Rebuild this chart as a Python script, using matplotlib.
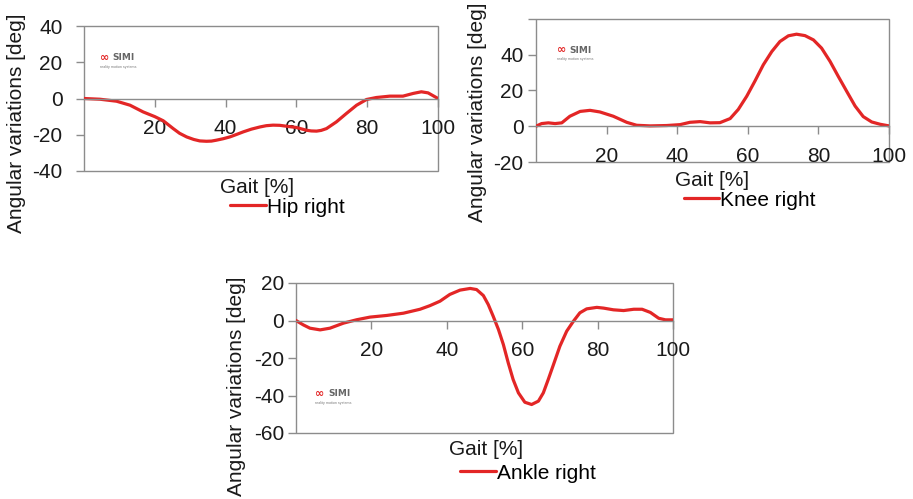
import matplotlib
matplotlib.use("Agg")
import matplotlib.pyplot as plt
from matplotlib.patches import Rectangle

plt.rcParams['font.family'] = ['Liberation Sans', 'DejaVu Sans']
plt.rcParams['axes.unicode_minus'] = False

# ---------------- data ----------------
hip_x = [0, 4.5, 9.2, 13, 16.7, 20, 22.4, 25.2, 27, 29, 31, 32.7, 34.6, 36, 37.4, 39.3,
         41.2, 43, 45, 47.3, 49.7, 51.5, 53.4, 55.3, 57.2, 60, 62.8, 64.2, 65.7, 67,
         68.5, 71.3, 74.1, 77, 79.8, 82.6, 86.4, 90.1, 93, 95.3, 97.2, 100]
hip_y = [0, -0.4, -1.5, -3.7, -7.4, -10, -12.3, -16.6, -19.2, -21.2, -22.6, -23.4,
         -23.6, -23.5, -23, -22.2, -21.2, -19.9, -18.4, -16.9, -15.7, -15, -14.7,
         -14.8, -15.3, -16, -17.5, -17.9, -18, -17.6, -16.6, -12.9, -8.3, -3.7, -0.55,
         0.55, 1.3, 1.3, 2.8, 3.7, 3.1, 0]

knee_x = [0, 1.6, 3.5, 5.4, 7.3, 9.6, 12.5, 15.3, 18.1, 21.9, 25.7, 28.5, 32.3, 37,
          40.8, 43.6, 46.5, 49.3, 52.1, 55, 57.3, 59.7, 62, 64.4, 66.8, 69.1, 71.5,
          73.8, 76.2, 78.6, 80.9, 83.3, 85.6, 88, 90.4, 92.7, 95.1, 97.5, 100]
knee_y = [0, 1.5, 1.9, 1.5, 1.9, 5.6, 8.3, 8.9, 8, 5.6, 2.2, 0.55, 0.2, 0.4, 0.9, 2.2,
          2.6, 1.9, 2.0, 4.3, 9.4, 16.8, 25.2, 34.4, 41.8, 47.4, 50.6, 51.5, 50.7,
          48.3, 43.7, 36.3, 28, 19.6, 11.3, 5.4, 2.4, 1.1, 0.2]

ankle_x = [0, 1.9, 3.7, 6.4, 9, 12.6, 16.1, 19.6, 24.1, 28.5, 32.9, 35.5, 38.2, 40.8,
           43.5, 46.2, 47.9, 49.7, 51, 52.3, 53.7, 55, 56.3, 57.6, 59, 60.7, 62.5,
           64.3, 65.6, 66.9, 68.3, 70, 71.8, 73.6, 75.3, 77.1, 79.8, 81.6, 84.2, 86.9,
           89.6, 91.8, 94, 96.2, 98, 100]
ankle_y = [0, -2.3, -4.1, -5, -4.1, -1.4, 0.4, 1.8, 2.7, 3.9, 6, 7.9, 10.3, 13.9, 16.2,
           17.1, 16.5, 13.3, 8.5, 2.3, -4.8, -12.8, -22.6, -31.5, -38.6, -43.6, -44.8,
           -43, -38.6, -31.5, -23.5, -13.7, -5.7, -0.35, 4.1, 6.2, 7.0, 6.6, 5.7, 5.3,
           6, 6, 4.3, 1.2, 0.35, 0.35]

x_ticks = [20, 40, 60, 80, 100]
hip_yticks = [-40, -20, 0, 20, 40]
knee_yticks = [-20, 0, 20, 40, 60]
knee_ytick_labels = ['-20', '0', '20', '40', '']
ankle_yticks = [-60, -40, -20, 0, 20]

RED = '#e32626'
GRAY = '#8c8c8c'
FS = 15

fig = plt.figure(figsize=(9.13, 4.99), dpi=100)


def make_panel(rect, xs, ys, yticks, ylim, label, ylabel_xy, xlabel_xy, leg_xy,
               logo_xy, ypad, ytick_labels=None):
    ax = fig.add_axes(rect)
    ax.plot(xs, ys, color=RED, lw=2.3, solid_joinstyle='round',
            solid_capstyle='round', label=label)
    ax.set_xlim(0, 100)
    ax.set_ylim(*ylim)
    for s in ['top', 'right', 'left']:
        ax.spines[s].set_visible(False)
    ax.spines['bottom'].set_position(('data', 0))
    ax.spines['bottom'].set_color(GRAY)
    ax.spines['bottom'].set_linewidth(1.0)
    ax.add_patch(Rectangle((0, 0), 1, 1, transform=ax.transAxes, fill=False,
                           edgecolor=GRAY, lw=1.0, clip_on=False, zorder=0))
    ax.set_xticks(x_ticks)
    ax.set_yticks(yticks)
    if ytick_labels is not None:
        ax.set_yticklabels(ytick_labels)
    ax.tick_params(axis='x', direction='out', length=6, width=1, color=GRAY,
                   pad=9, labelsize=FS, labelcolor='#1a1a1a')
    ax.tick_params(axis='y', direction='out', length=6, width=1, color=GRAY,
                   pad=ypad, labelsize=FS, labelcolor='#1a1a1a')
    ax.set_xlabel('Gait [%]', fontsize=FS, color='#1a1a1a')
    ax.xaxis.set_label_coords(*xlabel_xy)
    ax.xaxis.label.set_va('center')
    ax.set_ylabel('Angular variations [deg]', fontsize=FS, color='#1a1a1a')
    ax.yaxis.set_label_coords(*ylabel_xy)
    ax.yaxis.label.set_va('center')
    ax.legend(loc='center', bbox_to_anchor=leg_xy, frameon=False, fontsize=FS,
              handlelength=1.7, handletextpad=0.05, borderpad=0, borderaxespad=0)
    # small SIMI logo
    lx, ly = logo_xy
    ax.text(lx, ly, '∞', transform=ax.transAxes, fontsize=8, color=RED,
            fontweight='bold', va='center', ha='left', family='DejaVu Sans')
    ax.text(lx + 0.035, ly, 'SIMI', transform=ax.transAxes, fontsize=6.5,
            color='#666666', fontweight='bold', va='center', ha='left',
            family='DejaVu Sans')
    ax.text(lx, ly - 0.06, 'reality motion systems', transform=ax.transAxes,
            fontsize=2.6, color='#777777', va='center', ha='left')
    return ax


# Hip
make_panel([84 / 913, 1 - 171 / 499, 354 / 913, 145 / 499], hip_x, hip_y,
           hip_yticks, (-40, 40), 'Hip right',
           ylabel_xy=(-0.19, 0.33), xlabel_xy=(0.49, -0.117),
           leg_xy=(0.574, -0.25), logo_xy=(0.045, 0.78), ypad=9.5)

# Knee
make_panel([536 / 913, 1 - 162 / 499, 353 / 913, 143 / 499], knee_x, knee_y,
           knee_yticks, (-20, 60), 'Knee right',
           ylabel_xy=(-0.165, 0.345), xlabel_xy=(0.50, -0.126),
           leg_xy=(0.606, -0.266), logo_xy=(0.06, 0.78), ypad=3,
           ytick_labels=knee_ytick_labels)

# Ankle
make_panel([296 / 913, 1 - 433 / 499, 377 / 913, 150 / 499], ankle_x, ankle_y,
           ankle_yticks, (-60, 20), 'Ankle right',
           ylabel_xy=(-0.157, 0.31), xlabel_xy=(0.505, -0.113),
           leg_xy=(0.615, -0.267), logo_xy=(0.05, 0.26), ypad=2.5)

fig.savefig('out.png', dpi=100)
